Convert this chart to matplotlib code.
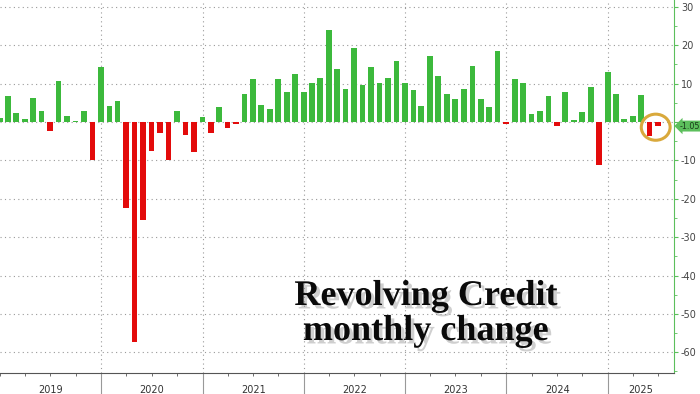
import numpy as np
import pandas as pd
import matplotlib
matplotlib.use("Agg")
import matplotlib.pyplot as plt
import matplotlib.dates as mdates
import matplotlib.patheffects as pe
from matplotlib.patches import Ellipse

# monthly change in revolving credit, $bn (Dec 2018 .. Jun 2025)
first_month = "2018-12-31"
changes = [
    1.1,
    6.9, 2.3, 0.8, 6.2, 3.0, -2.3, 10.7, 1.5, 0.2, 2.9, -9.9, 14.4,
    4.3, 5.6, -22.5, -57.4, -25.4, -7.5, -2.8, -9.9, 2.8, -3.5, -7.9, 1.3,
    -2.8, 4.0, -1.6, -0.4, 7.4, 11.3, 4.4, 3.4, 11.3, 7.9, 12.5, 7.7,
    10.1, 11.5, 24.1, 13.7, 8.5, 19.2, 9.6, 14.4, 10.3, 11.4, 16.0, 10.2,
    8.3, 4.2, 17.2, 12.0, 7.4, 5.9, 8.5, 14.5, 6.0, 3.8, 18.6, -0.5,
    11.2, 10.1, 2.0, 2.8, 6.8, -1.0, 7.7, 0.4, 2.5, 9.0, -11.3, 13.0,
    7.2, 0.9, 1.7, 7.0, -3.6, -1.05,
]
years = [2019, 2020, 2021, 2022, 2023, 2024, 2025]
y_ticks = [30, 20, 10, 0, -10, -20, -30, -40, -50, -60]
y_labels = ["30", "20", "10", "", "-10", "-20", "-30", "-40", "-50", "-60"]  # 0 sits under the tag
last_label = "-1.05"

GREEN = "#3cb93c"
RED = "#e30b0b"
AXGREEN = "#5cbf5c"

dates = pd.date_range(first_month, periods=len(changes), freq="ME")
vals = np.array(changes)
cols = [GREEN if v >= 0 else RED for v in vals]

fig = plt.figure(figsize=(7, 3.94), dpi=100)
ax = fig.add_axes([0.0, 21 / 394, 674 / 700, 373 / 394])

ax.bar(dates, vals, width=20.5, color=cols, zorder=3)

ax.set_xlim(pd.Timestamp("2019-01-06"), pd.Timestamp("2025-08-27"))
ax.set_ylim(-65.4, 31.8)

# grid
ax.set_yticks(y_ticks, y_labels)
ax.set_yticks(np.arange(-65, 31, 5), minor=True)
yr_starts = [pd.Timestamp(f"{y}-01-01") for y in years[1:]]
ax.set_xticks(yr_starts)
ax.set_xticks(pd.date_range("2019-01-01", "2025-08-01", freq="QS"), minor=True)
ax.grid(True, which="major", linestyle=(0, (1, 3)), color="#9a9a9a", lw=0.8, zorder=0)

for s in ["top", "left"]:
    ax.spines[s].set_visible(False)
ax.spines["right"].set_color(AXGREEN)
ax.spines["bottom"].set_color("#555555")

ax.yaxis.tick_right()
ax.tick_params(axis="y", which="major", length=3, color=AXGREEN, labelsize=7,
               labelcolor="#444444", pad=2)
ax.tick_params(axis="y", which="minor", length=2, color=AXGREEN)
ax.tick_params(axis="x", which="major", length=15, color="#999999", labelbottom=False)
ax.tick_params(axis="x", which="minor", length=2.5, color="#555555")

# year labels centered in each (visible) year
xl = ax.get_xlim()
for y in years:
    a = max(mdates.date2num(pd.Timestamp(f"{y}-01-01")), xl[0])
    b = min(mdates.date2num(pd.Timestamp(f"{y + 1}-01-01")), xl[1])
    ax.text((a + b) / 2, -0.045, str(y), transform=ax.get_xaxis_transform(),
            ha="center", va="center", fontsize=7, color="#333333")

# last value tag
ax.text(1.009, vals[-1], last_label, transform=ax.get_yaxis_transform(),
        ha="left", va="center", fontsize=5.8, color="#1a3a1a", zorder=6,
        bbox=dict(boxstyle="larrow,pad=0.12", fc=AXGREEN, ec="none"),
        clip_on=False)

# highlight circle round the last two bars
cx = mdates.date2num(dates[-1]) - 8
ax.add_patch(Ellipse((cx, -1.35), width=104, height=6.8, fill=False,
                     ec="#d9a93c", lw=2.2, zorder=5))

shadow = [pe.withSimplePatchShadow(offset=(2.5, -2.5), shadow_rgbFace="#888888", alpha=0.4)]
for txt, yy in [("Revolving Credit", 1 - 305 / 394), ("monthly change", 1 - 340 / 394)]:
    fig.text(426 / 700, yy, txt, ha="center", va="baseline", fontsize=26,
             fontweight="bold", family="Liberation Serif", color="#0a0a0a",
             path_effects=shadow, zorder=10)

fig.savefig("out.png", dpi=100)
